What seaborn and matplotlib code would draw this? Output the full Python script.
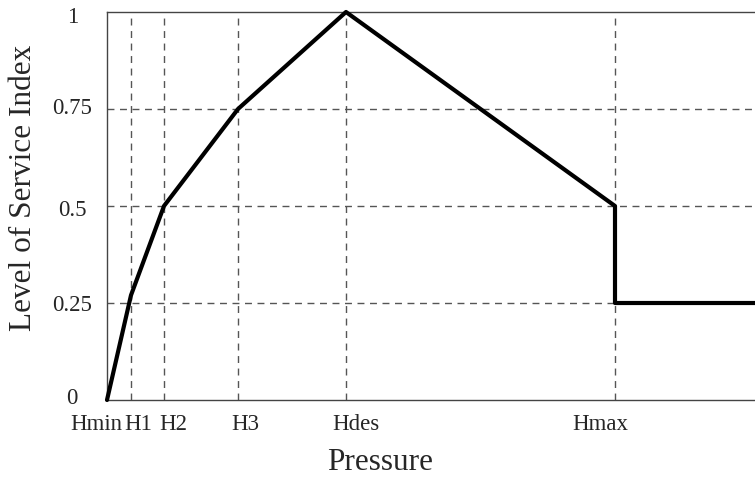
import seaborn as sns
import matplotlib.pyplot as plt
import matplotlib.transforms as mtransforms
import pandas as pd

# pressure positions (arbitrary units)
tick_names = ['Hmin', 'H1', 'H2', 'H3', 'Hdes', 'Hmax']
tick_pos = [0, 24, 57, 131, 239, 508]
x_end = 648

# level of service curve
pressure = [0, 24, 57, 131, 239, 508, 508, 648]
los = [0, 0.27, 0.5, 0.75, 1.0, 0.5, 0.25, 0.25]
y_ticks = [0, 0.25, 0.5, 0.75, 1]
y_labels = ['0', '0.25', '0.5', '0.75', '1']

df = pd.DataFrame({'Pressure': pressure, 'LOS': los})

sns.set_style('white')
plt.rcParams['font.family'] = ['Liberation Serif', 'DejaVu Serif']

fig = plt.figure(figsize=(7.55, 4.79), dpi=100)
ax = fig.add_axes([107 / 755, 79 / 479, 648 / 755, 388 / 479])

for x in tick_pos[1:]:
    ax.axvline(x, color='#555555', lw=1, ls=(0, (5, 4)), zorder=1)
for y in y_ticks[1:-1]:
    ax.axhline(y, color='#555555', lw=1, ls=(0, (5, 4)), zorder=1)

sns.lineplot(data=df, x='Pressure', y='LOS', sort=False, estimator=None,
             color='black', lw=3, ax=ax, zorder=3, clip_on=False)

ax.set_xlim(0, x_end)
ax.set_ylim(0, 1)
ax.set_xticks(tick_pos)
ax.set_xticklabels(tick_names, fontsize=16.5)
ax.set_yticks(y_ticks)
ax.set_yticklabels(y_labels, fontsize=16.5)
ax.tick_params(axis='x', length=0, pad=10)
ax.tick_params(axis='y', length=0, pad=25)
for lab in ax.get_yticklabels():
    lab.set_ha('center')

# labels sit a little off their ticks in the original
x_shift = [-11, 7, 9, 7, 10, -15]
for lab, dx in zip(ax.get_xticklabels(), x_shift):
    lab.set_transform(lab.get_transform() +
                      mtransforms.ScaledTranslation(dx / 100, 0, fig.dpi_scale_trans))
# the zero label sits a bit higher
y_shift = [4, 0, -2, 3, -3]
for lab, dy in zip(ax.get_yticklabels(), y_shift):
    lab.set_transform(lab.get_transform() +
                      mtransforms.ScaledTranslation(0, dy / 100, fig.dpi_scale_trans))

ax.set_xlabel('Pressure', fontsize=22.5, va='center')
ax.xaxis.set_label_coords((380 - 107) / 648, -62 / 388)
ax.set_ylabel('Level of Service Index', fontsize=22.5, va='center')
ax.yaxis.set_label_coords((24 - 107) / 648, (400 - 187.5) / 388)

for s in ['left', 'bottom', 'top']:
    ax.spines[s].set_color('#444444')
    ax.spines[s].set_linewidth(1)
ax.spines['right'].set_visible(False)

plt.savefig('out.png', dpi=100)
